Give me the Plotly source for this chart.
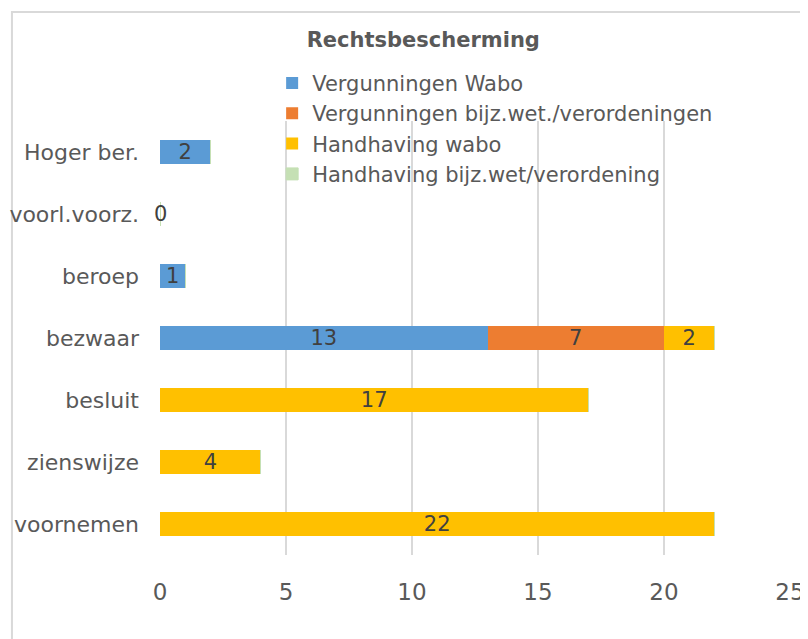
import plotly.graph_objects as go

# --- DATA ---
categorieen = ['voornemen', 'zienswijze', 'besluit', 'bezwaar', 'beroep', 'voorl.voorz.', 'Hoger ber.']
vergunningen_wabo = [0, 0, 0, 13, 1, 0, 2]
vergunningen_bijz = [0, 0, 0, 7, 0, 0, 0]
handhaving_wabo = [22, 4, 17, 2, 0, 0, 0]
handhaving_bijz = [0, 0, 0, 0, 0, 0, 0]

series = [
    ('Vergunningen Wabo', vergunningen_wabo, '#5B9BD5'),
    ('Vergunningen bijz.wet./verordeningen', vergunningen_bijz, '#ED7D31'),
    ('Handhaving wabo', handhaving_wabo, '#FFC000'),
    ('Handhaving bijz.wet/verordening', handhaving_bijz, '#C5E0B4'),
]

FONT = 'DejaVu Sans'
GRIJS = '#595959'

fig = go.Figure()
for naam, waarden, kleur in series:
    # de lege groene reeks tekent in Excel een dun randje aan het eind van de balk
    rand = 1 if max(waarden) == 0 else 0
    fig.add_trace(go.Bar(
        y=categorieen, x=waarden, name=naam, orientation='h',
        marker=dict(color=kleur, line=dict(width=rand, color=kleur)),
        text=[str(v) if v > 0 else '' for v in waarden],
        textposition='inside', insidetextanchor='middle', textangle=0,
        constraintext='none',
        textfont=dict(family=FONT, size=21, color='#404040'),
        width=0.4,
    ))

# Excel toont "0" bij de lege rij voorl.voorz.
fig.add_annotation(x=0, y='voorl.voorz.', text='0', showarrow=False,
                   font=dict(family=FONT, size=21, color='#404040'), xanchor='center')

fig.update_layout(
    barmode='stack',
    width=808, height=639,
    margin=dict(l=152, r=26, t=113, b=92),
    paper_bgcolor='white', plot_bgcolor='white',
    uniformtext=dict(minsize=21, mode='show'),
    title=dict(text='<b>Rechtsbescherming</b>', x=0.514, xanchor='center', y=0.951, yanchor='middle',
               font=dict(family=FONT, size=21, color=GRIJS)),
    legend=dict(x=0.178, y=1.134, xanchor='left', yanchor='top', traceorder='normal',
                font=dict(family=FONT, size=21, color=GRIJS), bgcolor='rgba(0,0,0,0)',
                itemwidth=30, tracegroupgap=0),
    xaxis=dict(range=[0, 25], dtick=5, showgrid=True, gridcolor='#D9D9D9', gridwidth=2,
               zeroline=False, showline=False, ticks='', ticklabelstandoff=21,
               tickfont=dict(family=FONT, size=23, color=GRIJS), automargin=False),
    yaxis=dict(showgrid=False, showline=False, ticks='', ticklabelstandoff=20,
               tickfont=dict(family=FONT, size=22, color=GRIJS), automargin=False),
    shapes=[dict(type='rect', xref='paper', yref='paper', x0=-0.235, x1=1.2, y0=-0.3, y1=1.251,
                 line=dict(color='#D9D9D9', width=2), layer='below')],
)

fig.write_html('out.html')
